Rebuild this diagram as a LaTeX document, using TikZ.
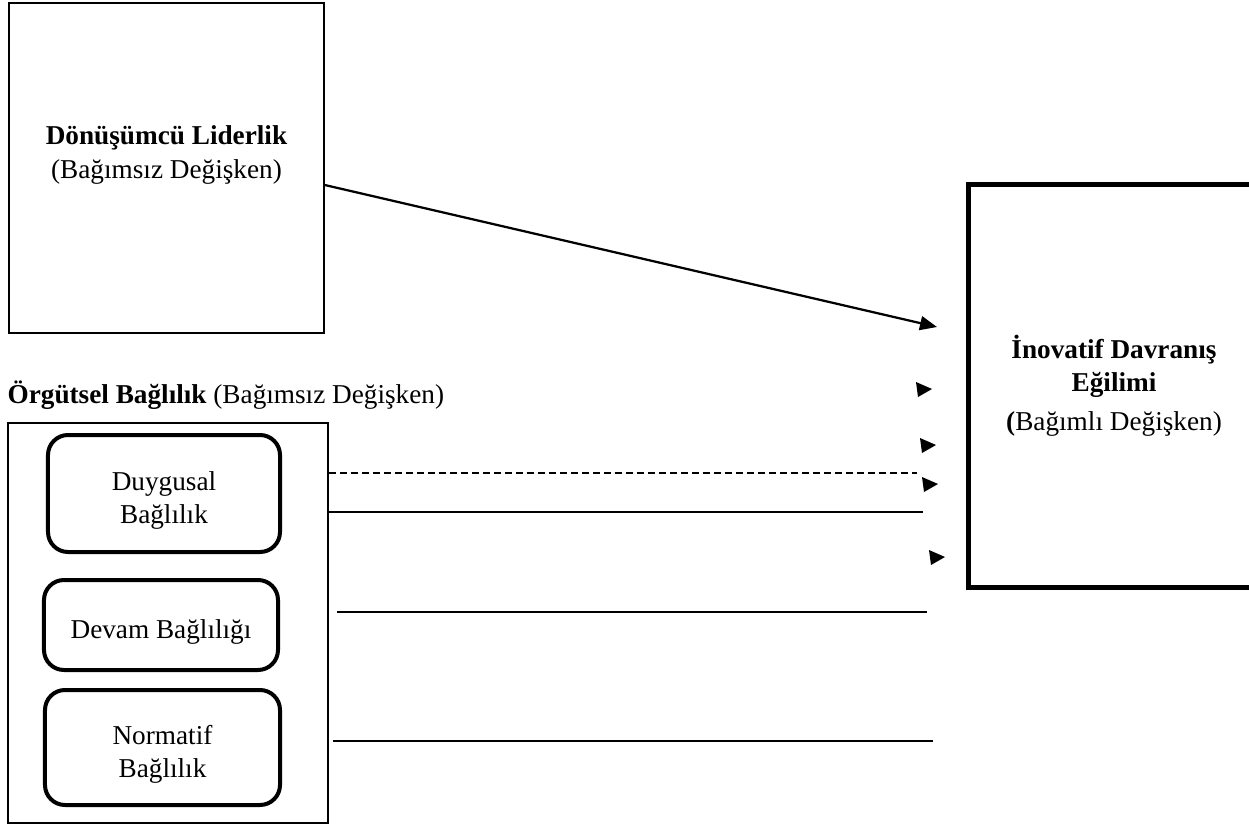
\documentclass[tikz,border=0pt]{standalone}
\usepackage{fontspec}
\setmainfont{Liberation Serif}
\usetikzlibrary{arrows.meta,positioning}
\newcommand\bodysize{\fontsize{15.5}{18.8}\selectfont}
\newcommand\dropstrut{\rule{0pt}{6.6mm}}
\tikzset{
  line/.style={-{Triangle[length=3.4mm,width=2.8mm]}, line width=0.45mm},
  link/.style={line width=0.45mm},
  dashlink/.style={link, dash pattern=on 1.4mm off 0.8mm},
  varbox/.style={draw, line width=0.3mm, align=center, inner sep=0pt},
  depbox/.style={draw, line width=1mm, align=center, inner sep=0pt},
  dimbox/.style={draw, line width=0.8mm, rounded corners=4mm, align=center, inner sep=0pt},
  head/.pic={\fill (0,0) -- (-16,-7) -- (-14,8) -- cycle;}
}

\begin{document}
\begin{tikzpicture}[x=0.2mm, y=-0.2mm, font=\bodysize]
  \clip (0,0) rectangle (1249,827);

  % independent variable 1
  \node[varbox, minimum width=63mm, minimum height=66mm] (lider) at (166.5,168) {};
  \node[align=center, inner sep=0pt] (lidertext) at ([yshift=2.6mm]lider.center)
    {\textbf{Dönüşümcü Liderlik}\\(Bağımsız Değişken)};

  % dependent variable
  \node[depbox, minimum width=58.4mm, minimum height=80.4mm] (inov) at (1114,386)
    {\textbf{İnovatif Davranış}\\\textbf{Eğilimi}\\[3.5pt]\textbf{(}Bağımlı Değişken)};

  % independent variable 2 and its dimensions
  \node[varbox, minimum width=64mm, minimum height=80mm] (orgut) at (168,623) {};
  \node[above=2.4mm of orgut.north west, anchor=south west, inner sep=0pt] (orgutlabel)
    {\textbf{Örgütsel Bağlılık} (Bağımsız Değişken)};
  \node[dimbox, minimum width=46.4mm, minimum height=23.4mm] (duygu) at (164,493.5) {\dropstrut Duygusal\\Bağlılık};
  \node[dimbox, minimum width=46.8mm, minimum height=18mm] (devam) at (161,625) {\dropstrut Devam Bağlılığı};
  \node[dimbox, minimum width=47mm, minimum height=23mm] (norm) at (162.5,747.5) {\dropstrut Normatif\\Bağlılık};

  % line ends and loose arrow heads
  \coordinate (tipA) at (937,327);
  \coordinate (endA) at (917,473);
  \coordinate (endB) at (923,512);
  \coordinate (endC) at (927,612);
  \coordinate (endD) at (933,741);
  \coordinate (hdA) at (932,389);
  \coordinate (hdB) at (936,445);
  \coordinate (hdC) at (938,484);
  \coordinate (hdD) at (945,557);

  \draw[line] ([yshift=-3.4mm]lider.east) -- (tipA);
  \draw[dashlink] (endA -| orgut.east) -- (endA);
  \draw[link] (endB -| orgut.east) -- (endB);
  \draw[link] ([xshift=1.6mm]endC -| orgut.east) -- (endC);
  \draw[link] ([xshift=0.8mm]endD -| orgut.east) -- (endD);

  \foreach \h in {hdA,hdB,hdC,hdD}
    \pic at (\h) {head};
\end{tikzpicture}
\end{document}
